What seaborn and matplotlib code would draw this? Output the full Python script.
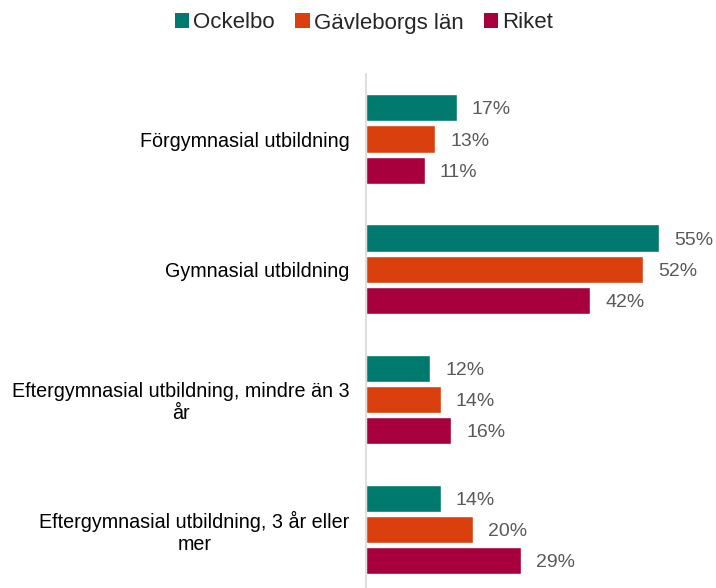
import matplotlib
matplotlib.use("Agg")
import matplotlib.pyplot as plt
import seaborn as sns
import pandas as pd
from matplotlib.patches import Patch

categories = ["Förgymnasial utbildning", "Gymnasial utbildning",
              "Eftergymnasial utbildning, mindre än 3\når",
              "Eftergymnasial utbildning, 3 år eller\nmer"]
series = ["Ockelbo", "Gävleborgs län", "Riket"]
ockelbo = [17, 55, 12, 14]
gavleborg = [13, 52, 14, 20]
riket = [11, 42, 16, 29]
colors = ["#007A6E", "#D9400E", "#A8003C"]

rows = []
for s, vals in zip(series, [ockelbo, gavleborg, riket]):
    for c, v in zip(categories, vals):
        rows.append({"cat": c, "serie": s, "val": v})
df = pd.DataFrame(rows)

sns.set_style("white")
plt.rcParams['font.family'] = ['Liberation Sans', 'DejaVu Sans']

fig = plt.figure(figsize=(7.16, 5.88), dpi=100)
W, H = 716, 588
ax_left, ax_right, ax_top, ax_bottom = 366, 700, 74, 588
ax = fig.add_axes([ax_left / W, 1 - ax_bottom / H, (ax_right - ax_left) / W, (ax_bottom - ax_top) / H])

sns.barplot(data=df, y="cat", x="val", hue="serie", orient="h", palette=colors,
            width=0.72, gap=0.13, ax=ax, legend=False, saturation=1)

ax.set_xlim(0, (ax_right - ax_left) / 5.33)
ax.set_ylim(3.45, -0.5)
ax.set_xlabel("")
ax.set_ylabel("")
ax.set_xticks([])
ax.set_yticks(range(len(categories)))
ax.set_yticklabels(categories, multialignment="center", fontsize=14.2, color="#000000")
for sp in ["top", "right", "bottom"]:
    ax.spines[sp].set_visible(False)
ax.spines["left"].set_color("#D9D9D9")
ax.spines["left"].set_linewidth(1.2)
ax.tick_params(axis="y", length=0, pad=12)

for cont in ax.containers:
    anns = ax.bar_label(cont, labels=[f"{int(v)}%" for v in cont.datavalues], padding=11,
                        fontsize=14, color="#595959")
    for a in anns:
        a.xyann = (11, -1.5)

handles = [Patch(facecolor=c, edgecolor="none") for c in colors]
fig.legend(handles, series, loc="center", bbox_to_anchor=(0.5 + 6 / W, 1 - 23 / H), ncol=3,
           frameon=False, fontsize=16, handlelength=0.65, handleheight=0.65,
           handletextpad=0.2, columnspacing=0.9)

fig.savefig("out.png", dpi=100)
